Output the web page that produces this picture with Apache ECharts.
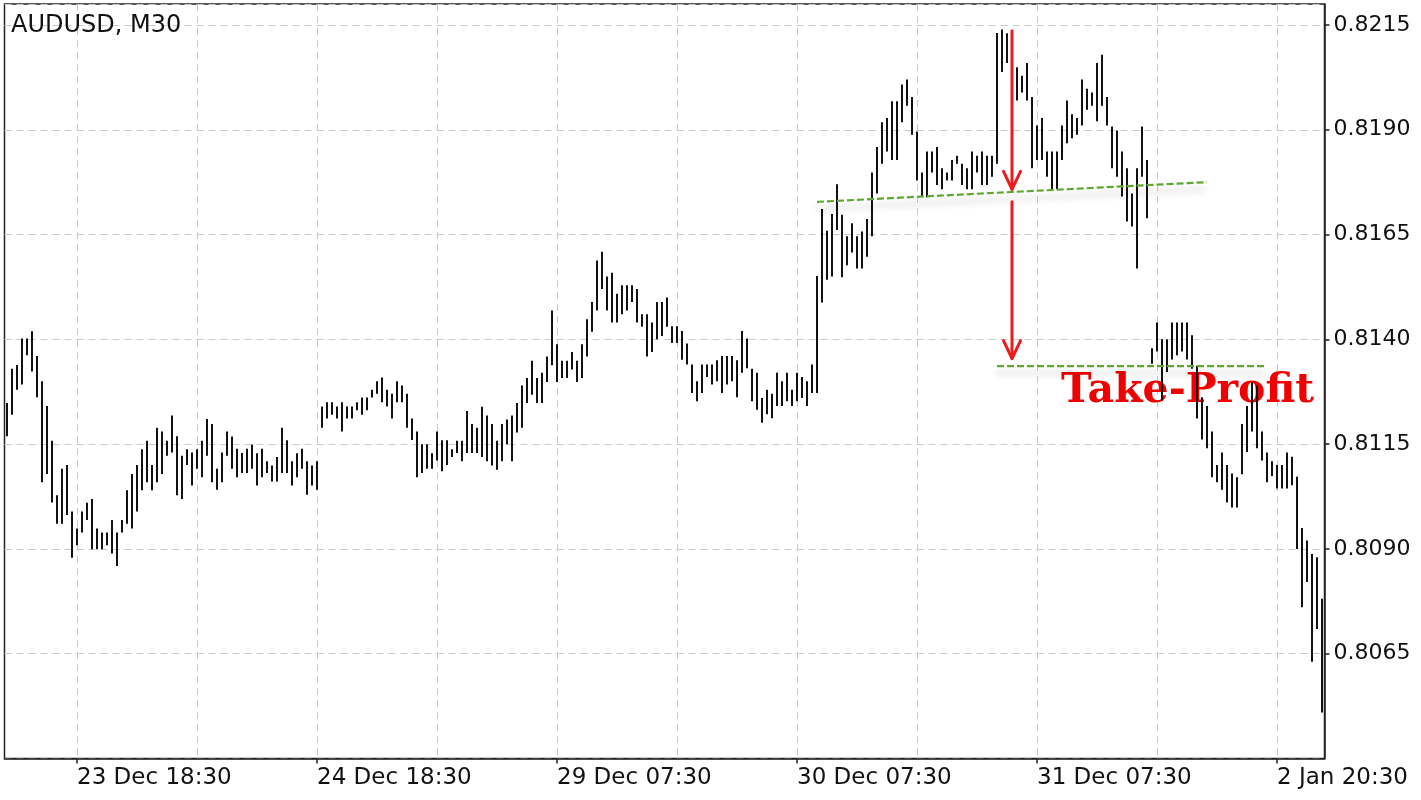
<!DOCTYPE html>
<html><head><meta charset="utf-8">
<script src="https://cdn.jsdelivr.net/npm/echarts@6/dist/echarts.min.js"></script>
<style>html,body{margin:0;padding:0;background:#fff}#c{width:1421px;height:800px}</style>
</head><body><div id="c"></div>
<script>
// ---- DATA (AUDUSD M30 bar highs / lows) ----
const highs = [
0.81248,0.81330,0.81339,0.81402,0.81402,0.81419,0.81360,0.81300,0.81241,0.81158,
0.81028,0.81091,0.81100,0.80989,0.80949,0.80989,0.81010,0.81019,0.80949,0.80939,
0.80939,0.80969,0.80939,0.80969,0.81040,0.81079,0.81100,0.81138,0.81158,0.81100,
0.81189,0.81180,0.81158,0.81218,0.81169,0.81122,0.81138,0.81130,0.81138,0.81158,
0.81210,0.81198,0.81091,0.81130,0.81180,0.81168,0.81139,0.81129,0.81139,0.81149,
0.81128,0.81139,0.81109,0.81099,0.81119,0.81189,0.81159,0.81109,0.81128,0.81139,
0.81109,0.81099,0.81109,0.81240,0.81250,0.81250,0.81240,0.81250,0.81240,0.81240,
0.81250,0.81261,0.81261,0.81280,0.81300,0.81309,0.81280,0.81270,0.81300,0.81290,
0.81270,0.81211,0.81180,0.81150,0.81150,0.81128,0.81180,0.81159,0.81159,0.81138,
0.81158,0.81158,0.81229,0.81198,0.81189,0.81239,0.81218,0.81198,0.81158,0.81198,
0.81209,0.81218,0.81248,0.81290,0.81308,0.81349,0.81308,0.81320,0.81359,0.81469,
0.81388,0.81349,0.81349,0.81370,0.81349,0.81388,0.81448,0.81489,0.81588,0.81609,
0.81550,0.81559,0.81509,0.81529,0.81529,0.81529,0.81520,0.81460,0.81460,0.81440,
0.81489,0.81489,0.81500,0.81431,0.81431,0.81420,0.81390,0.81340,0.81300,0.81340,
0.81340,0.81340,0.81350,0.81360,0.81360,0.81360,0.81350,0.81420,0.81402,0.81330,
0.81320,0.81260,0.81280,0.81270,0.81320,0.81300,0.81320,0.81280,0.81320,0.81310,
0.81300,0.81340,0.81551,0.81711,0.81659,0.81699,0.81770,0.81697,0.81646,0.81677,
0.81646,0.81657,0.81687,0.81798,0.81859,0.81918,0.81928,0.81968,0.81968,0.82008,
0.82020,0.81978,0.81896,0.81798,0.81848,0.81848,0.81859,0.81808,0.81798,0.81828,
0.81838,0.81819,0.81808,0.81848,0.81838,0.81848,0.81838,0.81838,0.82131,0.82139,
0.82130,0.82100,0.82049,0.82029,0.82059,0.81978,0.81910,0.81928,0.81848,0.81848,
0.81848,0.81910,0.81970,0.81937,0.81928,0.82020,0.81998,0.81989,0.82059,0.82079,
0.81978,0.81908,0.81898,0.81848,0.81808,0.81748,0.81808,0.81908,0.81828,0.81379,
0.81440,0.81400,0.81400,0.81440,0.81440,0.81440,0.81440,0.81410,0.81337,0.81262,
0.81241,0.81180,0.81100,0.81130,0.81100,0.81080,0.81071,0.81198,0.81241,0.81298,
0.81290,0.81180,0.81130,0.81109,0.81100,0.81100,0.81130,0.81120,0.81072,0.80950,
0.80920,0.80888,0.80880,0.80781
];
const lows = [
0.81169,0.81220,0.81280,0.81292,0.81362,0.81323,0.81262,0.81059,0.81079,0.81011,
0.80960,0.80960,0.80981,0.80879,0.80909,0.80939,0.80969,0.80899,0.80899,0.80899,
0.80909,0.80889,0.80859,0.80939,0.80960,0.80949,0.80989,0.81040,0.81059,0.81040,
0.81059,0.81079,0.81122,0.81130,0.81028,0.81019,0.81100,0.81051,0.81091,0.81071,
0.81122,0.81059,0.81041,0.81059,0.81122,0.81091,0.81071,0.81081,0.81081,0.81091,
0.81051,0.81071,0.81081,0.81061,0.81061,0.81081,0.81081,0.81051,0.81071,0.81091,
0.81029,0.81051,0.81041,0.81189,0.81211,0.81220,0.81211,0.81180,0.81211,0.81211,
0.81231,0.81220,0.81231,0.81261,0.81270,0.81250,0.81240,0.81211,0.81250,0.81250,
0.81189,0.81160,0.81071,0.81081,0.81091,0.81091,0.81111,0.81085,0.81100,0.81119,
0.81129,0.81109,0.81129,0.81129,0.81129,0.81119,0.81109,0.81099,0.81089,0.81109,
0.81149,0.81109,0.81178,0.81189,0.81248,0.81268,0.81248,0.81248,0.81298,0.81338,
0.81298,0.81308,0.81308,0.81328,0.81298,0.81308,0.81359,0.81418,0.81469,0.81520,
0.81469,0.81440,0.81440,0.81460,0.81469,0.81489,0.81440,0.81430,0.81359,0.81370,
0.81400,0.81408,0.81430,0.81391,0.81391,0.81351,0.81340,0.81272,0.81252,0.81272,
0.81310,0.81292,0.81300,0.81272,0.81292,0.81300,0.81262,0.81320,0.81331,0.81252,
0.81232,0.81201,0.81221,0.81212,0.81241,0.81241,0.81252,0.81241,0.81252,0.81260,
0.81241,0.81272,0.81272,0.81488,0.81542,0.81550,0.81661,0.81548,0.81577,0.81607,
0.81569,0.81569,0.81597,0.81646,0.81748,0.81819,0.81848,0.81828,0.81828,0.81918,
0.81957,0.81888,0.81779,0.81741,0.81739,0.81798,0.81768,0.81758,0.81779,0.81779,
0.81819,0.81768,0.81758,0.81758,0.81798,0.81768,0.81768,0.81788,0.81819,0.82038,
0.82059,0.82010,0.81970,0.81989,0.81970,0.81808,0.81828,0.81828,0.81788,0.81758,
0.81758,0.81828,0.81868,0.81880,0.81888,0.81910,0.81948,0.81957,0.81920,0.81957,
0.81910,0.81808,0.81788,0.81741,0.81681,0.81669,0.81569,0.81788,0.81689,0.81342,
0.81371,0.81254,0.81322,0.81352,0.81362,0.81371,0.81352,0.81330,0.81211,0.81161,
0.81140,0.81071,0.81059,0.81041,0.81011,0.80999,0.80999,0.81078,0.81131,0.81180,
0.81140,0.81111,0.81059,0.81074,0.81044,0.81044,0.81044,0.81052,0.80900,0.80761,
0.80821,0.80631,0.80709,0.80510
];
const tickLabels = ['23 Dec 18:30','24 Dec 18:30','29 Dec 07:30','30 Dec 07:30','31 Dec 07:30','2 Jan 20:30'];
const tickBars = [14, 62, 110, 158, 206, 254];
const supportLine = [[162, 0.81728], [240, 0.81775]];
const takeProfitLine = [[198, 0.81336], [252, 0.81336]];
const arrows = [[201, 0.82136, 0.81758], [201, 0.81728, 0.81354]];
const title = 'AUDUSD, M30';
const note = 'Take-Profit';

// ---- CHART ----
const categories = highs.map((_, i) => String(i));
const barData = highs.map((h, i) => [i, lows[i], h]);
const isLabel = (i) => tickBars.indexOf(i) >= 0;
const isGrid = (i) => i >= 14 && (i - 14) % 24 === 0;

const chart = echarts.init(document.getElementById('c'), null, {renderer: 'canvas'});
const font = '"DejaVu Sans", sans-serif';

chart.setOption({
  animation: false,
  backgroundColor: '#fff',
  title: {
    text: title, left: 6, top: 9,
    textStyle: {fontFamily: font, fontSize: 24, fontWeight: 'normal', color: '#111'}
  },
  grid: {left: 4.5, width: 1320, top: 4, height: 754.5, show: true,
         borderColor: '#222', borderWidth: 1.5, backgroundColor: 'transparent'},
  xAxis: {
    type: 'category', data: categories, boundaryGap: true,
    axisLine: {show: true, lineStyle: {color: '#222', width: 1.5}},
    axisTick: {show: true, alignWithLabel: true, interval: (i) => isLabel(i), length: 5, lineStyle: {color: '#222', width: 1.5}},
    axisLabel: {
      interval: (i) => isLabel(i), align: 'left', margin: 8,
      formatter: (v, i) => { const k = tickBars.indexOf(Number(v)); return k >= 0 ? tickLabels[k] : ''; },
      fontFamily: font, fontSize: 23, color: '#111'
    },
    splitLine: {show: true, alignWithLabel: true, interval: (i) => isGrid(i),
      lineStyle: {color: '#c9c9c9', width: 1, type: [7, 5]}}
  },
  yAxis: {
    type: 'value', position: 'right', min: 0.8040, max: 0.8220, interval: 0.0025,
    axisLine: {show: true, lineStyle: {color: '#222', width: 1.5}},
    axisTick: {show: true, length: 5, lineStyle: {color: '#222', width: 1.5}},
    axisLabel: {showMinLabel: false, showMaxLabel: false, margin: 9,
      formatter: (v) => v.toFixed(4), fontFamily: font, fontSize: 22, color: '#111'},
    splitLine: {show: true, lineStyle: {color: '#c9c9c9', width: 1, type: [7, 5]}}
  },
  graphic: [{
    type: 'text', left: 1061, top: 371, z: 1,
    style: {text: note, font: 'bold 41px "DejaVu Serif", serif', fill: '#f00000'}
  }],
  series: [
    {
      type: 'custom', name: 'bars', z: 3,
      renderItem: (params, api) => {
        const x = api.value(0);
        const lo = api.coord([x, api.value(1)]);
        const hi = api.coord([x, api.value(2)]);
        return {type: 'line', shape: {x1: lo[0], y1: lo[1], x2: hi[0], y2: hi[1]},
                style: {stroke: '#111', lineWidth: 2}};
      },
      encode: {x: 0, y: [1, 2]},
      data: barData
    },
    {
      type: 'line', name: 'support', data: supportLine, symbol: 'none', z: 4,
      lineStyle: {color: '#5ea832', width: 2.2, type: [7, 3],
                  shadowColor: 'rgba(0,0,0,0.28)', shadowBlur: 7, shadowOffsetY: 7}
    },
    {
      type: 'line', name: 'takeprofit', data: takeProfitLine, symbol: 'none', z: 4,
      lineStyle: {color: '#5ea832', width: 2.2, type: [7, 3],
                  shadowColor: 'rgba(0,0,0,0.28)', shadowBlur: 7, shadowOffsetY: 7}
    },
    {
      type: 'custom', name: 'arrows', z: 5,
      renderItem: (params, api) => {
        const x = api.value(0);
        const a = api.coord([x, api.value(1)]);
        const b = api.coord([x, api.value(2)]);
        const st = {stroke: '#ec1c1c', lineWidth: 3, lineCap: 'round', lineJoin: 'round'};
        return {type: 'group', children: [
          {type: 'line', shape: {x1: a[0], y1: a[1], x2: b[0], y2: b[1]}, style: st},
          {type: 'polyline', shape: {points: [[b[0] - 8.5, b[1] - 18], [b[0], b[1]], [b[0] + 8.5, b[1] - 18]]}, style: Object.assign({fill: null}, st)}
        ]};
      },
      encode: {x: 0, y: [1, 2]},
      data: arrows
    }
  ]
});
</script>
</body></html>
